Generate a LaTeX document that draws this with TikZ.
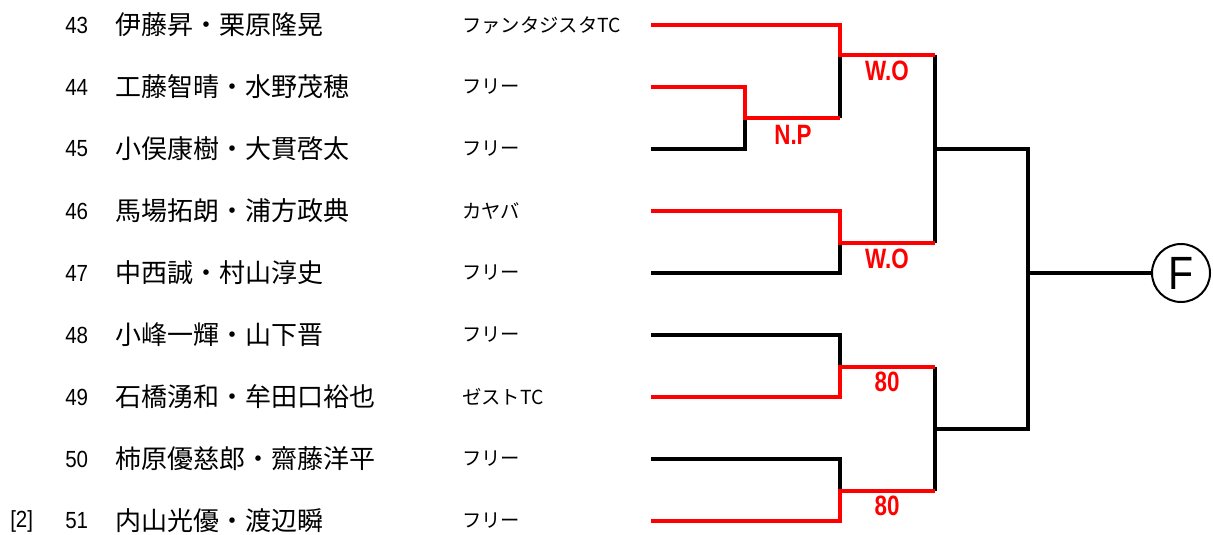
\documentclass[tikz,border=0pt]{standalone}
\usepackage{fontspec}
\newfontfamily\jpfont{Noto Sans CJK JP}
\newfontfamily\numfont{Liberation Sans}[FakeStretch=0.88]
\newfontfamily\resfont{Liberation Sans}[FakeStretch=0.8]

\begin{document}
\begin{tikzpicture}[x=0.75pt, y=-0.75pt,
        num/.style={anchor=west, inner sep=0pt, font=\numfont\fontsize{17.5}{20}\selectfont},
        player/.style={anchor=west, inner sep=0pt, font=\jpfont\fontsize{19.5}{22}\selectfont},
        club/.style={anchor=west, inner sep=0pt, font=\jpfont\fontsize{14.5}{17}\selectfont},
        blk/.style={line width=2.3pt, black},
        win/.style={line width=3.6pt, red},
        res/.style={inner sep=0pt, red, font=\resfont\bfseries\fontsize{21}{24}\selectfont}]
        \useasboundingbox (0,0) rectangle (1213,535);

        % Участники
        \foreach \n/\pname/\cname [count=\i] in {
            43/伊藤昇・栗原隆晃/ファンタジスタTC,
            44/工藤智晴・水野茂穂/フリー,
            45/小俣康樹・大貫啓太/フリー,
            46/馬場拓朗・浦方政典/カヤバ,
            47/中西誠・村山淳史/フリー,
            48/小峰一輝・山下晋/フリー,
            49/石橋湧和・牟田口裕也/ゼストTC,
            50/柿原優慈郎・齋藤洋平/フリー,
            51/内山光優・渡辺瞬/フリー} {
            \node[num]    (num\n)  at (65,{25+62*(\i-1)})  {\n};
            \node[player] (name\n) at (115,{25+62*(\i-1)}) {\pname};
            \node[club]   (club\n) at (462,{25+62*(\i-1)}) {\cname};
            \coordinate (s\n) at (651,{25+62*(\i-1)});
        }
        \node[num] (seed51) at (10,521) {[2]};

        % Узлы сетки
        \coordinate (a1) at (745,118);
        \coordinate (b1) at (840,55);
        \coordinate (b2) at (840,243);
        \coordinate (b3) at (840,367);
        \coordinate (b4) at (840,491);
        \coordinate (c1) at (935,149);
        \coordinate (c2) at (935,429);
        \coordinate (d1) at (1028,273);
        \node[draw, circle, line width=1.5pt, minimum size=43.5pt, inner sep=0pt,
              font=\numfont\fontsize{35}{40}\selectfont] (F) at (1181,273) {F};

        % Чёрные линии
        \draw[blk] (s45) -| (a1);
        \draw[blk] (b1 |- a1) -- (b1);
        \draw[blk] (s47) -| (b2);
        \draw[blk] (s48) -| (b3);
        \draw[blk] (s50) -| (b4);
        \draw[blk] (c1 |- b1) -- (c1 |- b2);
        \draw[blk] (c2 |- b3) -- (c2 |- b4);
        \draw[blk] (c1) -| (d1);
        \draw[blk] (c2) -| (d1);
        \draw[blk] (d1) -- (F);

        % Победители
        \draw[win] (s44) -| (a1) -- (b1 |- a1);
        \draw[win] (s43) -| (b1) -- (c1 |- b1);
        \draw[win] (s46) -| (b2) -- (c1 |- b2);
        \draw[win] (s49) -| (b3) -- (c2 |- b3);
        \draw[win] (s51) -| (b4) -- (c2 |- b4);

        % Результаты
        \node[res] (np1) at (793,135) {N.P};
        \node[res] (wo1) at (887,71)  {W.O};
        \node[res] (wo2) at (887,259) {W.O};
        \node[res] (sc1) at (887,382) {80};
        \node[res] (sc2) at (887,506) {80};
\end{tikzpicture}
\end{document}
